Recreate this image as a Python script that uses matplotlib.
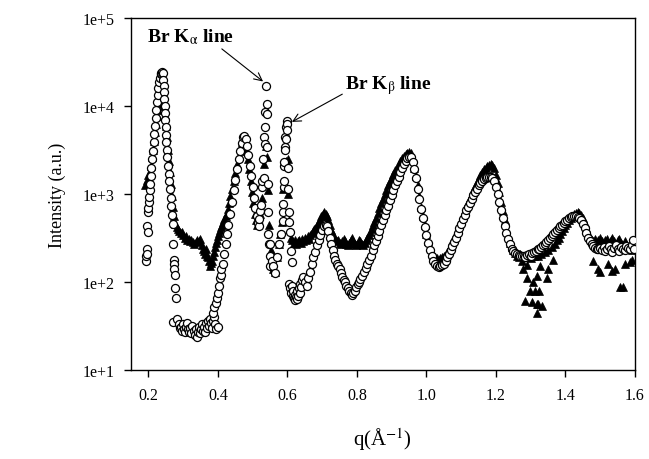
import numpy as np
import matplotlib.pyplot as plt
from matplotlib.ticker import FixedLocator, FuncFormatter

plt.rcParams['font.family'] = ['Liberation Serif', 'DejaVu Serif']
plt.rcParams['mathtext.fontset'] = 'stix'

# open circles: first peak + bottom well
circ_q_a = [0.192, 0.193, 0.195, 0.196, 0.197, 0.198, 0.199, 0.200, 0.201, 0.202, 0.204, 0.205, 0.207,
            0.209, 0.211, 0.213, 0.215, 0.217, 0.219, 0.221, 0.223, 0.225, 0.227, 0.229, 0.231, 0.233,
            0.235, 0.237, 0.239, 0.241, 0.243, 0.244, 0.245, 0.246, 0.247, 0.248, 0.249, 0.250, 0.251,
            0.252, 0.254, 0.255, 0.257, 0.258, 0.260, 0.262, 0.264, 0.266, 0.268, 0.270, 0.272, 0.273,
            0.274, 0.275, 0.276, 0.278, 0.279,
            0.272, 0.283, 0.287, 0.290, 0.294, 0.297, 0.300, 0.303, 0.306, 0.309, 0.312, 0.315, 0.318,
            0.321, 0.324, 0.327, 0.330, 0.333, 0.336, 0.339, 0.342, 0.345, 0.348, 0.351, 0.354, 0.357,
            0.360, 0.363, 0.366, 0.369, 0.372, 0.375, 0.378, 0.381, 0.384, 0.387, 0.390, 0.393, 0.396,
            0.399]
circ_i_a = [175, 200, 240, 210, 430, 370, 630, 700, 810, 935, 1100, 1300, 1600,
            2000, 2500, 3100, 3900, 4800, 6000, 7400, 9000, 11000, 13500, 16000, 18500, 21000,
            23000, 24000, 24500, 23500, 20000, 17000, 14500, 12000, 10000, 8300, 6900, 5700, 4700,
            3900, 3200, 2600, 2100, 1700, 1400, 1150, 900, 740, 570, 460, 270, 180,
            160, 140, 120, 85, 65,
            35, 38, 33, 30, 31, 28, 33, 29, 27, 31, 34, 29, 27,
            30, 26, 32, 28, 25, 29, 24, 27, 31, 26, 29, 33, 28,
            31, 27, 34, 30, 36, 32, 38, 34, 30, 36, 40, 33, 29,
            31]

# open circles: second peak and the Br K lines
circ_q_b = [0.385, 0.390, 0.394, 0.398, 0.401, 0.404, 0.406, 0.408, 0.410, 0.414, 0.418, 0.422, 0.426,
            0.430, 0.435, 0.440, 0.445, 0.450, 0.455, 0.460, 0.464, 0.468, 0.472, 0.476, 0.480, 0.484,
            0.488, 0.492, 0.496, 0.500, 0.504, 0.508, 0.512, 0.515, 0.518,
            0.519, 0.522, 0.525, 0.527, 0.528, 0.530, 0.532, 0.533, 0.535, 0.536, 0.537, 0.538, 0.540,
            0.541, 0.542, 0.543, 0.544, 0.545, 0.547, 0.549, 0.551,
            0.550, 0.556, 0.558, 0.564, 0.570, 0.576, 0.582, 0.587,
            0.588, 0.588, 0.589, 0.590, 0.590, 0.591, 0.592, 0.593, 0.594, 0.595, 0.597, 0.598, 0.599,
            0.600, 0.601, 0.602, 0.604, 0.606, 0.608, 0.610, 0.612]
circ_i_b = [45, 52, 58, 66, 75, 90, 110, 120, 140, 160, 210, 270, 350,
            450, 600, 820, 1100, 1450, 1900, 2500, 3100, 3800, 4500, 4600, 4200, 3500,
            2800, 2100, 1600, 1200, 900, 700, 560, 470, 430,
            520, 640, 750, 1200, 1400, 2500, 1500, 4500, 3700, 8500, 5800, 17000, 8100,
            10500, 3400, 1300, 630, 350, 270, 200, 150,
            270, 175, 150, 125, 190, 270, 350, 490,
            620, 770, 1200, 1400, 2100, 2300, 3400, 3200, 4500, 4200, 5800, 6700, 6200,
            5300, 2000, 1150, 620, 480, 370, 225, 170]

# open circles: q > 0.6
circ_q_c = [0.605, 0.608, 0.611, 0.613, 0.615, 0.617, 0.619, 0.621, 0.623, 0.625, 0.627, 0.629, 0.631,
            0.633, 0.635, 0.637, 0.640, 0.642, 0.645, 0.650, 0.655, 0.660, 0.665, 0.670, 0.675, 0.680,
            0.685, 0.690, 0.695, 0.700, 0.705, 0.710, 0.714, 0.718, 0.722, 0.726, 0.730, 0.734, 0.738,
            0.742, 0.746, 0.750, 0.754, 0.758, 0.762, 0.766, 0.770, 0.774, 0.778, 0.782, 0.786, 0.790,
            0.794, 0.798, 0.802, 0.806, 0.810, 0.815, 0.820, 0.825, 0.830, 0.835, 0.840, 0.845, 0.850,
            0.855, 0.860, 0.865, 0.870, 0.875, 0.880, 0.885, 0.890, 0.895, 0.900, 0.905, 0.910, 0.915,
            0.920, 0.925, 0.930, 0.935, 0.940, 0.945, 0.950, 0.955, 0.960, 0.965, 0.970, 0.975, 0.980,
            0.985, 0.990, 0.995, 1.000, 1.005, 1.010, 1.015, 1.020, 1.025, 1.030, 1.035, 1.040, 1.045,
            1.050, 1.055, 1.060, 1.065, 1.070, 1.075, 1.080, 1.085, 1.090, 1.095, 1.100, 1.105, 1.110,
            1.115, 1.120, 1.125, 1.130, 1.135, 1.140, 1.145, 1.150, 1.155, 1.160, 1.165, 1.170, 1.175,
            1.180, 1.185, 1.190, 1.195, 1.200, 1.205, 1.210, 1.215, 1.220, 1.225, 1.230, 1.235, 1.240,
            1.245, 1.250, 1.255, 1.260, 1.265, 1.270, 1.275, 1.280, 1.285, 1.290, 1.295, 1.300, 1.305,
            1.310, 1.315, 1.320, 1.325, 1.330, 1.335, 1.340, 1.345, 1.350, 1.355, 1.360, 1.365, 1.370,
            1.375, 1.380, 1.385, 1.390, 1.395, 1.400, 1.405, 1.410, 1.415, 1.420, 1.425, 1.430, 1.435,
            1.440, 1.445, 1.450, 1.455, 1.460, 1.465, 1.470, 1.475, 1.480, 1.485, 1.490, 1.495, 1.500,
            1.505, 1.510, 1.515, 1.520, 1.525, 1.530, 1.535, 1.540, 1.545, 1.550, 1.555, 1.560, 1.565,
            1.570, 1.575, 1.580, 1.585, 1.590, 1.595, 1.598]
circ_i_c = [95, 85, 75, 90, 70, 80, 65, 72, 62, 68, 78, 64, 70,
            85, 75, 95, 88, 105, 115, 100, 90, 110, 130, 160, 190, 220,
            260, 300, 340, 390, 430, 450, 430, 380, 320, 270, 230, 200, 180,
            160, 150, 140, 125, 115, 105, 100, 90, 85, 80, 75, 72, 75,
            80, 88, 95, 100, 108, 118, 130, 145, 160, 180, 200, 230, 260,
            290, 330, 380, 440, 500, 570, 650, 740, 850, 970, 1100, 1250, 1400,
            1580, 1780, 1980, 2200, 2400, 2550, 2650, 2600, 2300, 1900, 1500, 1150, 880,
            680, 530, 420, 340, 280, 230, 200, 175, 160, 150, 148, 150, 155,
            160, 175, 190, 210, 230, 255, 285, 320, 360, 410, 460, 520, 580,
            650, 720, 800, 880, 970, 1060, 1150, 1250, 1340, 1420, 1480, 1530, 1560,
            1580, 1570, 1520, 1400, 1200, 1000, 820, 660, 530, 430, 360, 310, 270,
            240, 225, 215, 210, 205, 200, 195, 200, 190, 205, 210, 200, 215,
            220, 225, 235, 240, 250, 260, 270, 285, 300, 315, 330, 350, 370,
            390, 410, 430, 450, 470, 490, 510, 530, 545, 555, 560, 560, 550,
            530, 500, 460, 410, 360, 320, 290, 270, 255, 245, 240, 235, 245,
            230, 250, 225, 240, 255, 235, 220, 245, 260, 235, 225, 250, 240,
            230, 255, 245, 235, 260, 300, 240]

# filled triangles: q < 0.61
tri_q_a = [0.190, 0.195, 0.200, 0.205, 0.208, 0.211, 0.214, 0.217, 0.220, 0.223, 0.226, 0.229, 0.232,
           0.235, 0.238, 0.241, 0.244, 0.247, 0.250, 0.253, 0.256, 0.259, 0.262, 0.265, 0.268, 0.271,
           0.274, 0.277, 0.281, 0.285, 0.289, 0.293, 0.297, 0.301, 0.305, 0.308, 0.312, 0.316, 0.320,
           0.324, 0.328, 0.332, 0.337, 0.341, 0.345, 0.349, 0.353, 0.357, 0.360, 0.363, 0.366, 0.369,
           0.372, 0.375, 0.377, 0.380, 0.383, 0.386, 0.389, 0.392, 0.395, 0.398, 0.401, 0.404, 0.407,
           0.410, 0.413, 0.416, 0.419, 0.422, 0.425, 0.428, 0.432, 0.436, 0.440, 0.445, 0.450, 0.455,
           0.460, 0.465, 0.470, 0.474, 0.478, 0.482, 0.486, 0.490, 0.494, 0.498, 0.502, 0.506, 0.510,
           0.514, 0.518, 0.522, 0.526, 0.530, 0.534, 0.538, 0.541, 0.544, 0.548, 0.552, 0.556, 0.560,
           0.565, 0.570, 0.575, 0.580, 0.585, 0.588, 0.591, 0.595, 0.601, 0.603, 0.606]
tri_i_a = [1250, 1450, 1650, 1800, 2100, 2600, 3200, 4000, 5000, 6200, 7600, 9000, 10500,
           11500, 12000, 11500, 10000, 8000, 6000, 4400, 3200, 2400, 1800, 1300, 950, 720,
           560, 460, 420, 400, 380, 360, 370, 340, 320, 335, 300, 310, 290,
           300, 285, 270, 285, 300, 290, 310, 260, 240, 225, 210, 240, 200,
           190, 175, 150, 165, 175, 200, 220, 250, 280, 300, 330, 360, 390,
           420, 450, 480, 520, 560, 610, 680, 800, 950, 1150, 1400, 1750, 2200,
           2700, 3300, 3900, 4100, 3800, 3100, 2500, 1900, 1400, 1050, 780, 600, 500,
           450, 480, 600, 900, 1500, 2200, 3500, 2600, 1100, 450, 230, 160, 140,
           130, 190, 270, 350, 480, 1150, 1250, 2400, 2500, 1000, 500]

# filled triangles: q > 0.61
tri_q_b = [0.610, 0.614, 0.618, 0.622, 0.626, 0.630, 0.634, 0.638, 0.642, 0.646, 0.650, 0.654, 0.658,
           0.662, 0.666, 0.670, 0.674, 0.678, 0.682, 0.686, 0.690, 0.694, 0.698, 0.702, 0.706, 0.710,
           0.714, 0.718, 0.722, 0.726, 0.730, 0.734, 0.738, 0.742, 0.746, 0.750, 0.754, 0.758, 0.762,
           0.766, 0.770, 0.774, 0.778, 0.782, 0.786, 0.790, 0.794, 0.798, 0.802, 0.806, 0.810, 0.814,
           0.818, 0.822, 0.826, 0.830, 0.834, 0.838, 0.842, 0.846, 0.850, 0.855, 0.860, 0.865, 0.870,
           0.875, 0.880, 0.885, 0.890, 0.895, 0.900, 0.905, 0.910, 0.915, 0.920, 0.925, 0.930, 0.935,
           0.940, 0.945, 0.950, 0.955, 0.960, 0.965, 0.970, 0.975, 0.980, 0.985, 0.990, 0.995, 1.000,
           1.005, 1.010, 1.015, 1.020, 1.025, 1.030, 1.035, 1.040, 1.045, 1.050, 1.055, 1.060, 1.065,
           1.070, 1.075, 1.080, 1.085, 1.090, 1.095, 1.100, 1.105, 1.110, 1.115, 1.120, 1.125, 1.130,
           1.135, 1.140, 1.145, 1.150, 1.155, 1.160, 1.165, 1.170, 1.175, 1.180, 1.185, 1.190, 1.195,
           1.200, 1.205, 1.210, 1.215, 1.220, 1.225, 1.230, 1.235, 1.240, 1.245, 1.250, 1.255, 1.260,
           1.265, 1.270, 1.280, 1.290, 1.300, 1.310, 1.320, 1.330, 1.340, 1.350, 1.360, 1.370, 1.375,
           1.380, 1.385, 1.390, 1.395, 1.400, 1.405, 1.410, 1.415, 1.420, 1.425, 1.430, 1.435, 1.440,
           1.445, 1.450, 1.455, 1.460, 1.465, 1.470, 1.475, 1.480, 1.485, 1.490, 1.495, 1.500, 1.505,
           1.510, 1.515, 1.520, 1.525, 1.530, 1.535, 1.540, 1.545, 1.550, 1.555, 1.560, 1.565, 1.570,
           1.575, 1.580, 1.585, 1.590]
tri_i_b = [320, 300, 280, 300, 270, 290, 300, 280, 310, 290, 320, 300, 330,
           310, 340, 360, 380, 400, 420, 450, 480, 520, 560, 590, 620, 600,
           560, 500, 440, 390, 350, 320, 300, 290, 300, 280, 270, 290, 310,
           290, 270, 260, 280, 300, 320, 290, 270, 260, 280, 300, 290, 270,
           260, 280, 300, 320, 340, 370, 400, 440, 480, 540, 610, 690, 780,
           880, 990, 1100, 1250, 1400, 1550, 1700, 1850, 2000, 2200, 2400, 2550, 2700,
           2850, 2950, 3000, 2900, 2500, 2000, 1600, 1250, 950, 720, 560, 440, 350,
           290, 250, 220, 200, 190, 185, 180, 185, 190, 195, 205, 220, 240,
           260, 290, 320, 360, 400, 450, 510, 580, 650, 730, 820, 910, 1010,
           1120, 1240, 1370, 1500, 1640, 1780, 1900, 2000, 2100, 2150, 2200, 2150, 1950,
           1650, 1350, 1050, 820, 640, 500, 400, 330, 280, 250, 230, 215, 200,
           190, 210, 200, 190, 185, 200, 195, 210, 220, 230, 250, 270, 300,
           320, 350, 380, 410, 440, 470, 500, 530, 560, 590, 610, 620, 610,
           580, 530, 470, 410, 360, 320, 300, 290, 310, 280, 300, 320, 290,
           270, 300, 310, 280, 300, 320, 290, 270, 300, 310, 280, 260, 290,
           270, 250, 240, 230]

# filled triangles: low scattered points
tri_q_c = [1.275, 1.278, 1.284, 1.289, 1.289, 1.298, 1.304, 1.307, 1.312, 1.318, 1.318, 1.318, 1.321,
           1.324, 1.327, 1.332, 1.347, 1.350, 1.364, 1.479, 1.494, 1.499, 1.522, 1.534, 1.542, 1.557,
           1.565, 1.571, 1.585, 1.591]
tri_i_c = [175, 140, 61, 110, 155, 80, 59, 100, 80, 56, 45, 118, 56,
           78, 150, 53, 110, 140, 180, 175, 140, 130, 160, 135, 140, 88,
           88, 160, 170, 180]

circ_q = circ_q_a + circ_q_b + circ_q_c
circ_i = circ_i_a + circ_i_b + circ_i_c
tri_q = tri_q_a + tri_q_b + tri_q_c
tri_i = tri_i_a + tri_i_b + tri_i_c

fig = plt.figure(figsize=(6.49, 4.60), dpi=100)
ax = fig.add_axes([0.2018, 0.1935, 0.7766, 0.7652])

ax.plot(tri_q, tri_i, linestyle='none', marker='^', markersize=5.8,
        markerfacecolor='black', markeredgecolor='black', markeredgewidth=0.5, zorder=2)
ax.plot(circ_q, circ_i, linestyle='none', marker='o', markersize=5.8,
        markerfacecolor='white', markeredgecolor='black', markeredgewidth=0.9, zorder=3)

ax.set_yscale('log')
ax.set_xlim(0.15, 1.6)
ax.set_ylim(10, 1e5)
ax.xaxis.set_major_locator(FixedLocator([0.2, 0.4, 0.6, 0.8, 1.0, 1.2, 1.4, 1.6]))
ax.xaxis.set_major_formatter(FuncFormatter(lambda v, p: f"{v:.1f}"))
ax.yaxis.set_major_locator(FixedLocator([1e1, 1e2, 1e3, 1e4, 1e5]))
ax.yaxis.set_major_formatter(FuncFormatter(lambda v, p: f"1e+{int(round(np.log10(v)))}"))
ax.yaxis.set_minor_locator(FixedLocator([]))
ax.tick_params(axis='both', which='major', direction='out', length=5, width=1,
               labelsize=11.5, pad=7)
for sp in ax.spines.values():
    sp.set_linewidth(1.0)

ax.set_ylabel("Intensity (a.u.)", fontsize=13, labelpad=12)
ax.set_xlabel("q(Å$^{-1}$)", fontsize=15, labelpad=16)

ax.annotate("Br K$_{\\mathrm{\\alpha}}$ line", xy=(0.530, 19000), xytext=(0.196, 62000),
            fontsize=14, fontweight='bold', va='center', ha='left',
            arrowprops=dict(arrowstyle='->', lw=0.8, color='black', shrinkA=0, shrinkB=0,
                            relpos=(0.82, 0.0)))
ax.annotate("Br K$_{\\mathrm{\\beta}}$ line", xy=(0.613, 6600), xytext=(0.766, 17500),
            fontsize=14, fontweight='bold', va='center', ha='left',
            arrowprops=dict(arrowstyle='->', lw=0.8, color='black', shrinkA=0, shrinkB=0,
                            relpos=(0.0, 0.15)))

fig.savefig("out.png", dpi=100)
